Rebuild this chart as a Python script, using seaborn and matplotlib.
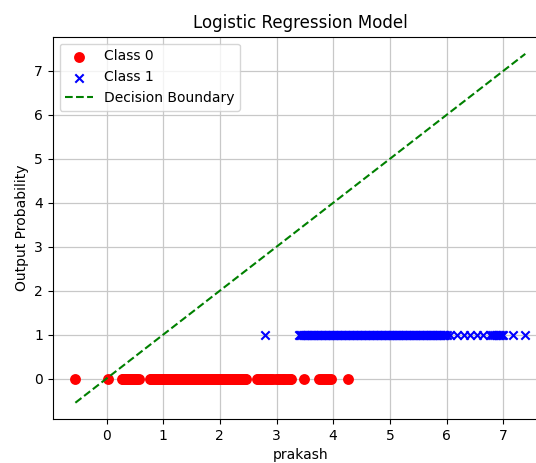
import matplotlib
matplotlib.use("Agg")
import matplotlib.pyplot as plt
import seaborn as sns
import pandas as pd

# ---- data ----
class0_x = [-0.55, 0.02,
            0.27, 0.29, 0.31, 0.33, 0.35, 0.37, 0.39, 0.41, 0.43, 0.45,
            0.47, 0.50, 0.52, 0.54, 0.57,
            0.76, 0.78, 0.80, 0.83, 0.85, 0.87, 0.89, 0.92, 0.94, 0.96,
            0.99, 1.01, 1.03, 1.06, 1.08, 1.10, 1.12, 1.15, 1.17, 1.19,
            1.21, 1.24, 1.26, 1.29, 1.31, 1.33, 1.35, 1.38, 1.40, 1.43,
            1.45, 1.47, 1.49, 1.52, 1.54, 1.56, 1.58, 1.61, 1.63, 1.66,
            1.68, 1.70, 1.72, 1.75, 1.77, 1.79, 1.81, 1.84, 1.86, 1.89,
            1.91, 1.93, 1.95, 1.98, 2.00, 2.02, 2.04, 2.07, 2.09, 2.12,
            2.14, 2.16, 2.18, 2.21, 2.23, 2.26, 2.28, 2.30, 2.32, 2.35,
            2.37, 2.39, 2.41, 2.44, 2.46,
            2.66, 2.68, 2.71, 2.73, 2.76, 2.79, 2.82, 2.85, 2.88, 2.91,
            2.94, 2.99, 3.02, 3.05, 3.08, 3.11, 3.14, 3.17, 3.20, 3.23,
            3.26,
            3.48,
            3.75, 3.79, 3.82, 3.86, 3.89, 3.93, 3.96,
            4.26]
class1_x = [2.80,
            3.40, 3.42, 3.44, 3.47, 3.49, 3.51, 3.53, 3.56, 3.58, 3.60,
            3.63, 3.65, 3.67, 3.70, 3.72, 3.74, 3.77, 3.79, 3.81, 3.84,
            3.86, 3.88, 3.91, 3.93, 3.95, 3.98, 4.00, 4.02, 4.05, 4.07,
            4.09, 4.12, 4.14, 4.16, 4.19, 4.21, 4.23, 4.26, 4.28, 4.30,
            4.33, 4.35, 4.37, 4.40, 4.42, 4.44, 4.47, 4.49, 4.51, 4.54,
            4.56, 4.58, 4.61, 4.63, 4.65, 4.68, 4.70, 4.72, 4.75, 4.77,
            4.79, 4.82, 4.84, 4.86, 4.89, 4.91, 4.93, 4.96, 4.98, 5.00,
            5.03, 5.05, 5.07, 5.10, 5.12, 5.14, 5.17, 5.19, 5.21, 5.24,
            5.26, 5.28, 5.31, 5.33, 5.35, 5.38, 5.40, 5.42, 5.45, 5.47,
            5.49, 5.52, 5.54, 5.56, 5.59, 5.61, 5.63, 5.66, 5.68, 5.70,
            5.73, 5.75, 5.77, 5.80, 5.82, 5.84, 5.87, 5.89, 5.91, 5.94,
            5.96, 5.98, 6.00,
            6.07, 6.18, 6.30, 6.42, 6.54, 6.65,
            6.77, 6.81, 6.84, 6.87, 6.90, 6.93, 6.95, 6.98, 7.00,
            7.18, 7.39]
class0_y = [0] * len(class0_x)
class1_y = [1] * len(class1_x)

labels = ["Class 0", "Class 1", "Decision Boundary"]
title = "Logistic Regression Model"
xlabel = "prakash"
ylabel = "Output Probability"

all_x = class0_x + class1_x
boundary_x = [min(all_x), max(all_x)]
boundary_y = list(boundary_x)

df0 = pd.DataFrame({"x": class0_x, "y": class0_y})
df1 = pd.DataFrame({"x": class1_x, "y": class1_y})
dfb = pd.DataFrame({"x": boundary_x, "y": boundary_y})

fig = plt.figure(figsize=(5.36, 4.63), dpi=100)
# axes extend past the right edge of the figure (reference is cropped there)
ax = fig.add_axes([0.0983, 0.095, 0.924, 0.8257])

sns.scatterplot(data=df0, x="x", y="y", ax=ax, color="red", marker="o",
                s=40, edgecolor="red", linewidth=1.5, label=labels[0], zorder=3)
sns.scatterplot(data=df1, x="x", y="y", ax=ax, color="blue", marker="x",
                s=36, linewidth=1.5, label=labels[1], zorder=3)
sns.lineplot(data=dfb, x="x", y="y", ax=ax, color="green", linestyle="--",
             linewidth=1.5, label=labels[2], zorder=4)

ax.set_xlim(-0.95, 7.79)
ax.set_ylim(-0.92, 7.78)
ax.spines["right"].set_visible(False)
ax.set_title(title, fontsize=12)
ax.set_xlabel(xlabel, fontsize=10)
ax.set_ylabel(ylabel, fontsize=10)
ax.grid(True, color="#c8c8c8", linewidth=0.9)
ax.set_axisbelow(True)
ax.legend(loc="upper left", fontsize=10)

fig.savefig("out.png", dpi=100)
